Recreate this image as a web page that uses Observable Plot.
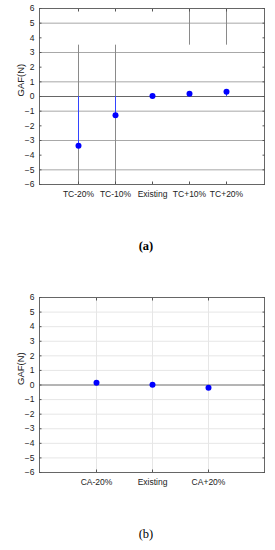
<!DOCTYPE html>
<html>
<head>
<meta charset="utf-8">
<script src="https://cdn.jsdelivr.net/npm/d3@7"></script>
<script src="https://cdn.jsdelivr.net/npm/@observablehq/plot@0.6"></script>
<style>
  body { margin: 0; background: #fff; font-family: "Liberation Sans", Arial, sans-serif; }
  #wrap { position: relative; width: 275px; height: 550px; overflow: hidden; }
  .panel { position: absolute; left: 0; }
  .cap { position: absolute; left: 0; width: 292px; text-align: center; font-family: "Liberation Serif", "Times New Roman", serif; font-size: 12.5px; color: #000; }
</style>
</head>
<body>
<div id="wrap">
  <div class="panel" id="pa" style="top:0px"></div>
  <div class="cap" style="top:239px; font-weight:bold">(a)</div>
  <div class="panel" id="pb" style="top:280px"></div>
  <div class="cap" style="top:527px">(b)</div>
</div>
<script>
// ---- data: panel (a) ----
const catsA = ["TC-20%", "TC-10%", "Existing", "TC+10%", "TC+20%"];
const valsA = [-3.35, -1.27, 0.03, 0.18, 0.32];
const gridA = [5, 3, 1, -1, -3, -5];
const lowGrayCats = ["TC-20%", "TC-10%"];
const lowGraySpan = [-6, 3.5];
const highGrayCats = ["TC+10%", "TC+20%"];
const highGraySpan = [3.5, 6];

// ---- data: panel (b) ----
const catsB = ["CA-20%", "Existing", "CA+20%"];
const valsB = [0.16, 0.02, -0.18];

// ---- shared ----
const yTicks = [-6, -5, -4, -3, -2, -1, 0, 1, 2, 3, 4, 5, 6];
const yDomain = [-6, 6];
const yLabel = "GAF(N)";
const FONT = "Liberation Sans, Arial, sans-serif";

const tableA = catsA.map((c, i) => ({cat: c, val: valsA[i]}));
const tableB = catsB.map((c, i) => ({cat: c, val: valsB[i]}));

function commonAxes(cats) {
  return [
    Plot.axisY(yTicks, {anchor: "left", tickSize: 0, tickPadding: 5, label: null, fontSize: 8.5, fill: "#222"}),
    Plot.axisY(yTicks, {anchor: "left", tickSize: -2.5, text: null, label: null, stroke: "#555"}),
    Plot.axisY(yTicks, {anchor: "right", tickSize: -2.5, text: null, label: null, stroke: "#555"}),
    Plot.axisX(cats, {anchor: "bottom", tickSize: 0, tickPadding: 6, label: null, fontSize: 8.5, fill: "#222"}),
    Plot.axisX(cats, {anchor: "bottom", tickSize: -2.5, text: null, label: null, stroke: "#555"}),
    Plot.axisX(cats, {anchor: "top", tickSize: -2.5, text: null, label: null, stroke: "#555"}),
    Plot.text([yLabel], {frameAnchor: "left", dx: -19, rotate: -90, fontSize: 9.5, fill: "#222"})
  ];
}

const plotA = Plot.plot({
  width: 275, height: 200,
  marginLeft: 39, marginRight: 11, marginTop: 8, marginBottom: 16,
  style: {fontFamily: FONT, background: "#fff"},
  x: {type: "point", domain: catsA, padding: 1, axis: null},
  y: {domain: yDomain, axis: null},
  marks: [
    Plot.ruleY(gridA, {stroke: "#a8a8a8", strokeWidth: 1}),
    Plot.ruleY([0], {stroke: "#666", strokeWidth: 1}),
    Plot.ruleX(lowGrayCats, {x: d => d, y1: lowGraySpan[0], y2: lowGraySpan[1], stroke: "#8a8a8a"}),
    Plot.ruleX(highGrayCats, {x: d => d, y1: highGraySpan[0], y2: highGraySpan[1], stroke: "#8a8a8a"}),
    Plot.ruleX(tableA, {x: "cat", y1: 0, y2: "val", stroke: "#3344ff", strokeWidth: 1}),
    Plot.dot(tableA, {x: "cat", y: "val", r: 3, fill: "#0000ff", stroke: "none"}),
    Plot.frame({stroke: "#666"}),
    ...commonAxes(catsA)
  ]
});
document.getElementById("pa").appendChild(plotA);

const plotB = Plot.plot({
  width: 275, height: 208,
  marginLeft: 39, marginRight: 11, marginTop: 17, marginBottom: 16,
  style: {fontFamily: FONT, background: "#fff"},
  x: {type: "point", domain: catsB, padding: 1, axis: null},
  y: {domain: yDomain, axis: null},
  marks: [
    Plot.ruleY(yTicks, {stroke: "#e6e6e6", strokeWidth: 1}),
    Plot.ruleX(catsB, {x: d => d, stroke: "#e6e6e6", strokeWidth: 1}),
    Plot.ruleY([0], {stroke: "#777", strokeWidth: 1}),
    Plot.dot(tableB, {x: "cat", y: "val", r: 3, fill: "#0000ff", stroke: "none"}),
    Plot.frame({stroke: "#666"}),
    ...commonAxes(catsB)
  ]
});
document.getElementById("pb").appendChild(plotB);
</script>
</body>
</html>
